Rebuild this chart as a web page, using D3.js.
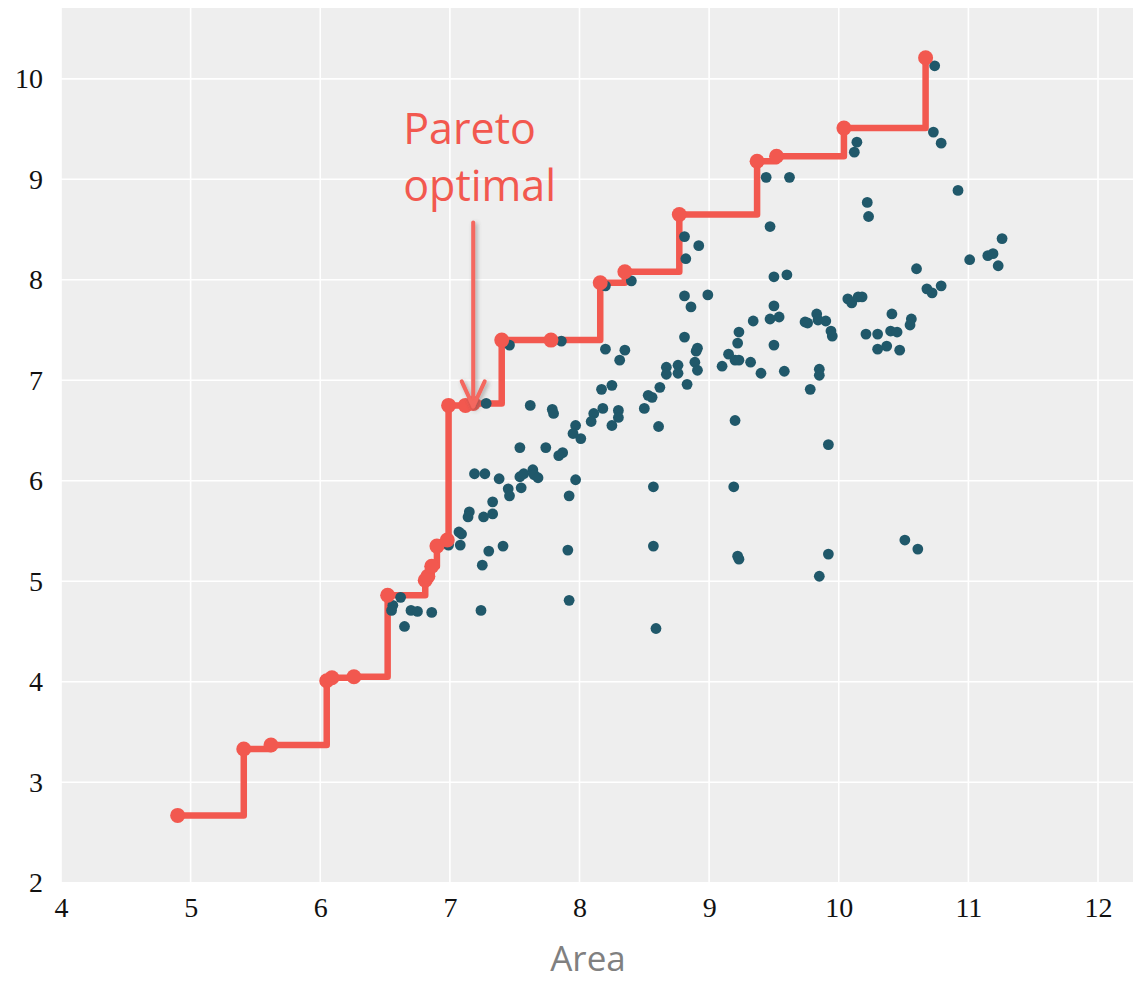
<!DOCTYPE html>
<html>
<head>
<meta charset="utf-8">
<script src="https://cdn.jsdelivr.net/npm/d3@7"></script>
<style>
  html, body { margin: 0; padding: 0; background: #ffffff; }
  svg { display: block; }
</style>
</head>
<body>
<svg id="chart" width="1133" height="983"></svg>
<script>
// Pareto-optimal designs (area, score), sorted by area
const paretoArea  = [4.90, 5.41, 5.62, 6.05, 6.09, 6.26, 6.52, 6.81, 6.83, 6.86, 6.90, 6.98,
                     6.99, 7.12, 7.18, 7.40, 7.78, 8.16, 8.35, 8.77, 9.37, 9.52, 10.04, 10.67];
const paretoScore = [2.67, 3.33, 3.37, 4.01, 4.04, 4.05, 4.86, 5.01, 5.05, 5.15, 5.35, 5.41,
                     6.75, 6.75, 6.77, 7.40, 7.40, 7.97, 8.08, 8.65, 9.18, 9.23, 9.51, 10.21];

// All other evaluated designs
const designArea = [
  10.74, 10.73, 10.79, 10.14, 10.12, 9.44, 9.62, 10.92, 10.22, 10.23, 9.47, 11.26, 11.01, 11.15,
  11.19, 11.23, 10.60, 9.50, 9.60, 10.68, 10.72, 10.79, 10.07, 10.10, 10.15, 10.18, 9.34, 9.50,
  9.47, 9.54, 9.50, 9.32, 9.40, 9.58, 9.74, 9.76, 9.83, 9.84, 9.90, 9.94, 9.95, 9.85, 9.85, 9.78,
  10.41, 10.21, 10.30, 10.40, 10.45, 10.56, 10.55, 10.30, 10.37, 10.47, 9.92, 10.51, 10.61, 9.92,
  9.85,
  8.82, 8.40, 8.81, 8.99, 8.86, 8.81, 8.81, 8.92, 8.20, 9.23, 9.22, 8.91, 8.90, 8.89, 8.91, 9.15,
  9.20, 9.23, 9.10, 8.67, 8.67, 8.76, 8.76, 8.83, 8.62, 8.53, 8.56, 8.50, 8.61, 9.20, 8.35, 8.31,
  8.20, 7.46, 7.86, 9.19, 8.57, 8.57, 9.23, 9.22, 8.59,
  7.28, 7.62, 7.79, 7.80, 8.17, 8.25, 8.18, 8.11, 8.09, 8.30, 8.30, 8.25, 7.97, 7.95, 8.01, 7.54,
  7.74, 7.87, 7.84, 7.19, 7.27, 7.38, 7.54, 7.57, 7.64, 7.65, 7.68, 7.97, 7.45, 7.46, 7.55, 7.92,
  7.33, 7.15, 7.14, 7.33, 7.26, 7.07, 7.09, 7.08, 6.99, 7.30, 7.41, 7.91, 7.25, 7.92, 7.24, 6.62,
  6.56, 6.55, 6.70, 6.75, 6.86, 6.65
];
const designScore = [
  10.13, 9.47, 9.36, 9.37, 9.27, 9.02, 9.02, 8.89, 8.77, 8.63, 8.53, 8.41, 8.20, 8.24,
  8.26, 8.14, 8.11, 8.03, 8.05, 7.91, 7.87, 7.94, 7.81, 7.77, 7.83, 7.83, 7.59, 7.74,
  7.61, 7.63, 7.35, 7.18, 7.07, 7.09, 7.58, 7.57, 7.66, 7.60, 7.59, 7.49, 7.44, 7.11, 7.05, 6.91,
  7.66, 7.46, 7.46, 7.49, 7.48, 7.61, 7.55, 7.31, 7.34, 7.30, 6.36, 5.41, 5.32, 5.27,
  5.05,
  8.21, 7.99, 7.84, 7.85, 7.73, 7.43, 8.43, 8.34, 7.94, 7.48, 7.37, 7.32, 7.29, 7.18, 7.10, 7.26,
  7.20, 7.20, 7.14, 7.13, 7.06, 7.15, 7.07, 6.96, 6.93, 6.85, 6.83, 6.72, 6.54, 6.60, 7.30, 7.20,
  7.31, 7.35, 7.39, 5.94, 5.94, 5.35, 5.22, 5.25, 4.53,
  6.77, 6.75, 6.71, 6.67, 6.91, 6.95, 6.72, 6.67, 6.59, 6.70, 6.63, 6.55, 6.55, 6.47, 6.42, 6.33,
  6.33, 6.28, 6.25, 6.07, 6.07, 6.02, 6.04, 6.07, 6.11, 6.06, 6.03, 6.01, 5.92, 5.85, 5.93, 5.85,
  5.79, 5.69, 5.64, 5.67, 5.64, 5.49, 5.47, 5.36, 5.36, 5.30, 5.35, 5.31, 5.16, 4.81, 4.71, 4.84,
  4.76, 4.71, 4.71, 4.70, 4.69, 4.55
];

// Axis ticks
const xTicks = [4, 5, 6, 7, 8, 9, 10, 11, 12];
const yTicks = [2, 3, 4, 5, 6, 7, 8, 9, 10];
const xLabel = "Area";

// Annotation: text anchor, arrow start and arrow tip
const noteLines = ["Pareto", "optimal"];
const noteAt    = [6.64, 9.353];
const arrowFrom = [7.18, 8.57];
const arrowTo   = [7.18, 6.74];

const W = 1133, H = 983;
const red = "#f2584f", blue = "#20586a";

const svg = d3.select("#chart");

const x = d3.scaleLinear().domain([4, 12.27]).range([61, 1133]);
const y = d3.scaleLinear().domain([2, 10.705]).range([882.7, 8]);

const defs = svg.append("defs");
const shadow = defs.append("filter").attr("id", "shadow")
  .attr("x", "-50%").attr("y", "-10%").attr("width", "200%").attr("height", "120%");
shadow.append("feDropShadow").attr("dx", 2).attr("dy", 2).attr("stdDeviation", 2)
  .attr("flood-color", "#555").attr("flood-opacity", 0.45);

// Panel background
svg.append("rect")
  .attr("x", x.range()[0]).attr("y", y.range()[1])
  .attr("width", x.range()[1] - x.range()[0])
  .attr("height", y.range()[0] - y.range()[1])
  .attr("fill", "#eeeeee");

// Grid
const grid = svg.append("g").attr("stroke", "#ffffff").attr("stroke-width", 1.6);
grid.selectAll("line.v").data(xTicks).join("line")
  .attr("x1", d => x(d)).attr("x2", d => x(d))
  .attr("y1", y.range()[0]).attr("y2", y.range()[1]);
grid.selectAll("line.h").data(yTicks).join("line")
  .attr("x1", x.range()[0]).attr("x2", x.range()[1])
  .attr("y1", d => y(d)).attr("y2", d => y(d));

// Axes (labels only)
const tickFont = "'Liberation Serif', 'DejaVu Serif', serif";
const gx = svg.append("g").attr("transform", `translate(0,${y.range()[0]})`)
  .call(d3.axisBottom(x).tickValues(xTicks).tickSize(0).tickPadding(14).tickFormat(d3.format("d")));
const gy = svg.append("g").attr("transform", `translate(${x.range()[0]},0)`)
  .call(d3.axisLeft(y).tickValues(yTicks).tickSize(0).tickPadding(18).tickFormat(d3.format("d")));
[gx, gy].forEach(g => {
  g.select(".domain").remove();
  g.selectAll("text").attr("font-family", tickFont).attr("font-size", 28).attr("fill", "#111");
});

// Axis title
svg.append("text")
  .attr("x", 588).attr("y", 971)
  .attr("text-anchor", "middle")
  .attr("font-family", "'Open Sans', sans-serif")
  .attr("font-size", 35)
  .attr("fill", "#808080")
  .text(xLabel);

// Pareto front as a step line
const pareto = paretoArea.map((a, i) => [a, paretoScore[i]]);
const stepLine = d3.line().x(d => x(d[0])).y(d => y(d[1])).curve(d3.curveStepAfter);
svg.append("path")
  .datum(pareto)
  .attr("d", stepLine)
  .attr("fill", "none")
  .attr("stroke", red)
  .attr("stroke-width", 6.5)
  .attr("stroke-linejoin", "round")
  .attr("stroke-linecap", "round");

// All designs
const designs = designArea.map((a, i) => [a, designScore[i]]);
svg.append("g").selectAll("circle").data(designs).join("circle")
  .attr("cx", d => x(d[0])).attr("cy", d => y(d[1]))
  .attr("r", 5.4).attr("fill", blue);

// Pareto markers
svg.append("g").selectAll("circle").data(pareto).join("circle")
  .attr("cx", d => x(d[0])).attr("cy", d => y(d[1]))
  .attr("r", 7.5).attr("fill", red);

// Annotation text
const note = svg.append("text")
  .attr("x", x(noteAt[0])).attr("y", y(noteAt[1]))
  .attr("font-family", "'Open Sans', sans-serif")
  .attr("font-size", 43)
  .attr("fill", red);
note.selectAll("tspan").data(noteLines).join("tspan")
  .attr("x", x(noteAt[0]))
  .attr("dy", (d, i) => i === 0 ? 0 : "1.33em")
  .text(d => d);

// Annotation arrow
const arrow = svg.append("g").attr("filter", "url(#shadow)")
  .attr("stroke", "#f4675e").attr("stroke-width", 4).attr("fill", "none")
  .attr("stroke-linecap", "round").attr("stroke-linejoin", "round");
const ax = x(arrowFrom[0]), ay0 = y(arrowFrom[1]), ay1 = y(arrowTo[1]);
arrow.append("line").attr("x1", ax).attr("x2", ax).attr("y1", ay0).attr("y2", ay1);
arrow.append("path")
  .attr("d", `M${ax - 11.5},${ay1 - 25} L${ax},${ay1} L${ax + 11.5},${ay1 - 25}`);
</script>
</body>
</html>
